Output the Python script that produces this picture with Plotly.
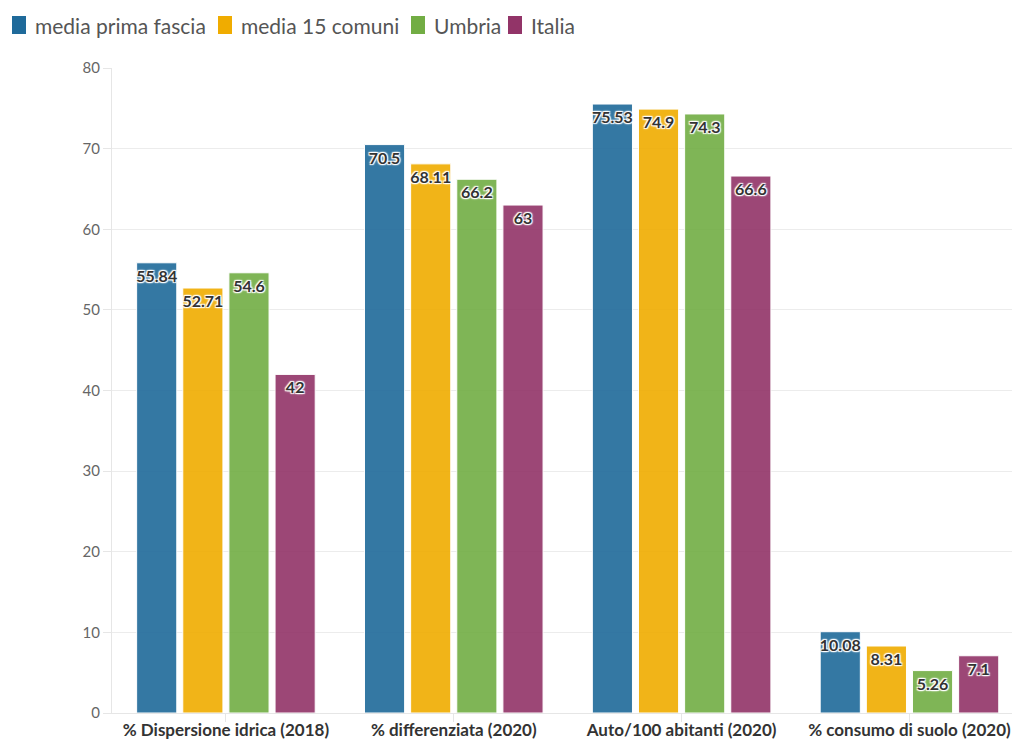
import plotly.graph_objects as go

categories = ["% Dispersione idrica (2018)", "% differenziata (2020)",
              "Auto/100 abitanti (2020)", "% consumo di suolo (2020)"]
series_names = ["media prima fascia", "media 15 comuni", "Umbria", "Italia"]
prima_fascia = [55.84, 70.5, 75.53, 10.08]
quindici_comuni = [52.71, 68.11, 74.9, 8.31]
umbria = [54.6, 66.2, 74.3, 5.26]
italia = [42, 63, 66.6, 7.1]
y_ticks = [0, 10, 20, 30, 40, 50, 60, 70, 80]

series_values = [prima_fascia, quindici_comuni, umbria, italia]
colors = ["#1f6a9a", "#f0ac00", "#72ad44", "#923468"]

W, H = 1012, 739
ML, MR, MT, MB = 112, 0, 68, 26
FONT = "Lato, 'Noto Sans', sans-serif"
HALO = ("1px 1px 1px #fff, -1px -1px 1px #fff, 1px -1px 1px #fff, "
        "-1px 1px 1px #fff, 0 0 3px #fff")

fig = go.Figure()
for name, vals, col in zip(series_names, series_values, colors):
    fig.add_trace(go.Bar(
        name=name,
        x=categories,
        y=vals,
        text=[f"{v:g}" for v in vals],
        textposition="inside",
        insidetextanchor="end",
        textangle=0,
        constraintext="none",
        cliponaxis=False,
        textfont=dict(family=FONT, size=16, color="#333333", weight="bold",
                      shadow=HALO),
        marker=dict(color=col, opacity=0.9, line=dict(color="#ffffff", width=1)),
        showlegend=False,
    ))


def paper_x(px):
    return (px - ML) / (W - ML - MR)


def paper_y(py):
    return (H - MB - py) / (H - MB - MT)


# legend row: swatch + label for each series, laid out in pixels
swatch_x = [12, 218, 411, 508]
legend_y = 25
for name, col, sx in zip(series_names, colors, swatch_x):
    fig.add_shape(type="rect", xref="paper", yref="paper",
                  x0=paper_x(sx), x1=paper_x(sx + 14),
                  y0=paper_y(legend_y + 9), y1=paper_y(legend_y - 9),
                  fillcolor=col, line=dict(width=0), layer="above")
    fig.add_annotation(text=name, xref="paper", yref="paper",
                       x=paper_x(sx + 21), y=paper_y(legend_y),
                       xanchor="left", yanchor="middle", showarrow=False,
                       font=dict(family=FONT, size=21, color="#555555"))

fig.update_layout(
    width=W,
    height=H,
    barmode="group",
    bargap=0.19,
    bargroupgap=0.13,
    plot_bgcolor="#ffffff",
    paper_bgcolor="#ffffff",
    font=dict(family=FONT, color="#555555"),
    margin=dict(l=ML, r=MR, t=MT, b=MB, autoexpand=False),
    showlegend=False,
)
fig.update_xaxes(
    range=[-0.5, 3.45],
    automargin=False,
    showgrid=False,
    showline=True, linecolor="#e6e6e6", linewidth=1,
    ticks="outside", ticklen=8, tickcolor="#e6e6e6",
    ticklabelstandoff=-6,
    tickfont=dict(size=17, color="#333333", weight="bold"),
)
fig.update_yaxes(
    range=[0, 80],
    automargin=False,
    tickvals=y_ticks,
    showgrid=True, gridcolor="#ececec", gridwidth=1,
    showline=True, linecolor="#e6e6e6", linewidth=1,
    ticks="outside", ticklen=8, tickcolor="#e6e6e6",
    tickfont=dict(size=15, color="#666666"),
    zeroline=False,
)

fig.write_html("out.html")
